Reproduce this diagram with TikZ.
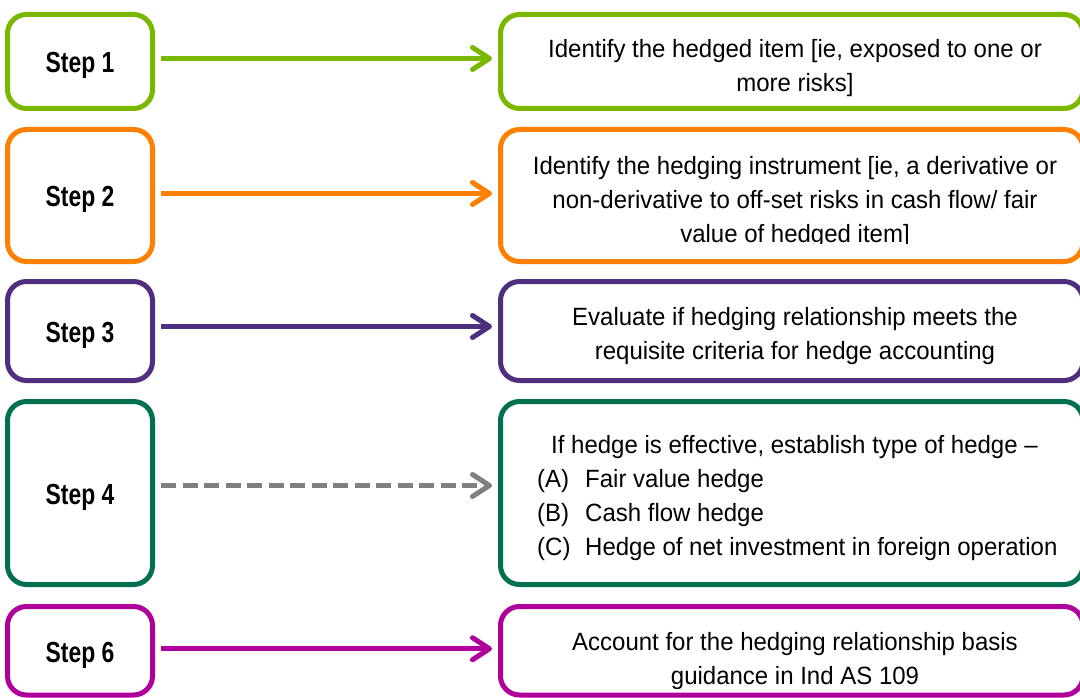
\documentclass[tikz,border=0pt]{standalone}
\usepackage{fontspec}
\setmainfont{Liberation Sans}
\newfontface\stepfont[FakeStretch=0.79]{Liberation Sans Bold}
\newfontface\bodyfont[FakeStretch=0.96]{Liberation Sans}
\usetikzlibrary{arrows.meta}
\definecolor{cgreen}{RGB}{122,184,0}
\definecolor{corange}{RGB}{255,127,0}
\definecolor{cpurple}{RGB}{79,45,127}
\definecolor{cteal}{RGB}{0,112,80}
\definecolor{cmag}{RGB}{176,0,156}
\definecolor{cgray}{RGB}{128,128,128}
\begin{document}
\begin{tikzpicture}[x=1pt,y=-1pt,
  stepbox/.style={draw, line width=5pt, rounded corners=19pt, minimum width=145pt, inner sep=0pt,
    text height=23pt, text depth=0pt,
    font=\stepfont\fontsize{29}{34}\selectfont},
  infobox/.style={draw, line width=5pt, rounded corners=19pt, minimum width=582.5pt, inner sep=0pt},
  info/.style={inner sep=0pt, font=\bodyfont\fontsize{25}{34}\selectfont, align=center},
  conn/.style={line width=5pt, -{Straight Barb[length=17pt,width=22pt,round]}, shorten <=6pt, shorten >=6pt}]
\clip (0,0) rectangle (1080,698);
\fill[white] (0,0) rectangle (1080,698);
% step boxes
\node[stepbox, draw=cgreen,  minimum height=94pt]   (s1) at (80,61.5)   {Step 1};
\node[stepbox, draw=corange, minimum height=132pt]  (s2) at (80,195.5)  {Step 2};
\node[stepbox, draw=cpurple, minimum height=99pt]   (s3) at (80,331)    {Step 3};
\node[stepbox, draw=cteal,   minimum height=183pt]  (s4) at (80,493)    {Step 4};
\node[stepbox, draw=cmag,    minimum height=88.5pt] (s6) at (80,650.75) {Step 6};
% description boxes
\node[infobox, draw=cgreen,  minimum height=94pt]   (r1) at (791.75,61.5)   {};
\node[infobox, draw=corange, minimum height=132pt]  (r2) at (791.75,195.5)  {};
\node[infobox, draw=cpurple, minimum height=99pt]   (r3) at (791.75,331)    {};
\node[infobox, draw=cteal,   minimum height=183pt]  (r4) at (791.75,493)    {};
\node[infobox, draw=cmag,    minimum height=88.5pt] (r6) at (791.75,650.75) {};
% texts
\node[info] (t1) at (795,68) {Identify the hedged item [ie, exposed to one or\\more risks]};
\begin{scope}
\clip (500,130) rectangle (1080,243.5);
\node[info] (t2) at (795,202) {Identify the hedging instrument [ie, a derivative or\\non-derivative to off-set risks in cash flow/ fair\\value of hedged item]};
\end{scope}
\node[info] (t3) at (795,336) {Evaluate if hedging relationship meets the\\requisite criteria for hedge accounting};
\node[info, align=left, anchor=west] (t4) at (537,498) {\hspace*{14pt}If hedge is effective, establish type of hedge –\\
\makebox[48pt][l]{(A)}Fair value hedge\\
\makebox[48pt][l]{(B)}Cash flow hedge\\
\makebox[48pt][l]{(C)}Hedge of net investment in foreign operation};
\begin{scope}
\clip (500,607) rectangle (1080,688);
\node[info] (t6) at (795,661) {Account for the hedging relationship basis\\guidance in Ind AS 109};
\end{scope}
% connectors
\coordinate (a1) at ([yshift=3pt]s1.east);
\coordinate (a2) at ([yshift=2pt]s2.east);
\coordinate (a3) at ([yshift=4.5pt]s3.east);
\coordinate (a4) at ([yshift=7.5pt]s4.east);
\coordinate (a6) at ([yshift=2pt]s6.east);
\draw[conn, cgreen]  (a1) -- (a1 -| r1.west);
\draw[conn, corange] (a2) -- (a2 -| r2.west);
\draw[conn, cpurple] (a3) -- (a3 -| r3.west);
\draw[conn, cgray, dash pattern=on 15pt off 6.5pt] (a4) -- (a4 -| r4.west);
\draw[conn, cmag]    (a6) -- (a6 -| r6.west);
\end{tikzpicture}
\end{document}
